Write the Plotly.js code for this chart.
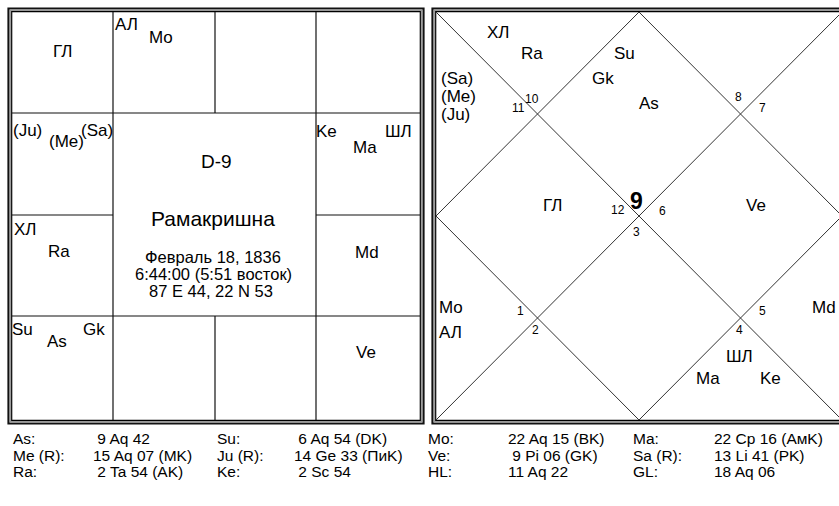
<!DOCTYPE html>
<html><head><meta charset="utf-8">
<script src="https://cdn.plot.ly/plotly-3.0.1.min.js"></script>
<style>html,body{margin:0;padding:0;background:#fff;overflow:hidden}#chart{width:839px;height:506px}</style>
</head><body><div id="chart"></div>
<script>
// ---------------- data ----------------
const signAbbr = ['Ar','Ta','Ge','Cn','Le','Vi','Li','Sc','Sg','Cp','Aq','Pi'];
// D-9 chart contents by sign (Ar .. Pi)
const d9Contents = [
  ['АЛ','Mo'],            // Ar
  [],                     // Ta
  [],                     // Ge
  ['Ke','Ma','ШЛ'],       // Cn
  ['Md'],                 // Le
  ['Ve'],                 // Vi
  [],                     // Li
  [],                     // Sc
  ['Su','As','Gk'],       // Sg
  ['ХЛ','Ra'],            // Cp
  ['(Ju)','(Me)','(Sa)'], // Aq
  ['ГЛ']                  // Pi
];
const ascSign = 9;
const chartName = 'D-9';
const personName = 'Рамакришна';
const birthDate = 'Февраль 18, 1836';
const birthTime = '6:44:00 (5:51 восток)';
const birthPlace = '87 E 44, 22 N 53';
const tableLabels = ['As:','Su:','Mo:','Ma:',
                     'Me (R):','Ju (R):','Ve:','Sa (R):',
                     'Ra:','Ke:','HL:','GL:'];
const tableValues = ['9 Aq 42','6 Aq 54 (DK)','22 Aq 15 (BK)','22 Cp 16 (AмK)',
                     '15 Aq 07 (MK)','14 Ge 33 (ПиK)','9 Pi 06 (GK)','13 Li 41 (PK)',
                     '2 Ta 54 (AK)','2 Sc 54','11 Aq 22','18 Aq 06'];

// ---------------- layout constants ----------------
const FONT = 'Liberation Sans, Arial, sans-serif';
const shapes = [];
const ann = [];
function line(x0,y0,x1,y1,c,w){shapes.push({type:'line',xref:'x',yref:'y',x0,y0,x1,y1,line:{color:c||'#000',width:w||1}});}
function rect(x0,y0,x1,y1,c,w){shapes.push({type:'rect',xref:'x',yref:'y',x0,y0,x1,y1,line:{color:c,width:w},fillcolor:'rgba(0,0,0,0)'});}
function text(t,x,y,size,opt){opt=opt||{};ann.push({text:t,x,y,xref:'x',yref:'y',showarrow:false,
  xanchor:opt.anchor||'center',yanchor:'middle',borderpad:0,font:{family:FONT,size:size,color:'#000',weight:opt.bold?'bold':'normal'}});}
function frame(L,T,R,B){
  rect(L-3.5,T-3.5,R+3.5,B+3.5,'#111',2.2);
  rect(L-1.8,T-1.8,R+1.8,B+1.8,'#999',1.5);
  rect(L-0.3,T-0.3,R+0.3,B+0.3,'#000',1.2);
}

// ---- South Indian chart (left) ----
const sxB = [12,113,215,316,420], syB = [12,113,215,316,420];
frame(12,12,420,420);
line(12,113,420,113,'#111',1.2); line(12,316,420,316,'#111',1.2);
line(113,12,113,420,'#111',1.2); line(316,12,316,420,'#111',1.2);
line(215,12,215,113,'#111',1.2); line(215,316,215,420,'#111',1.2);
line(12,215,113,215,'#111',1.2); line(316,215,420,215,'#111',1.2);
// sign -> [row,col]
const southCell = {Pi:[0,0],Ar:[0,1],Ta:[0,2],Ge:[0,3],Cn:[1,3],Le:[2,3],Vi:[3,3],Li:[3,2],Sc:[3,1],Sg:[3,0],Cp:[2,0],Aq:[1,0]};
// label slots inside each cell (offset from the cell's top-left corner)
const southSlots = {
  Pi:[[50,39]],
  Ar:[[13,12],[48,25]],
  Cn:[[10,18],[49,34],[82,18]],
  Le:[[51,37]],
  Vi:[[50,36]],
  Sg:[[10,13],[45,25],[82,13]],
  Cp:[[13,14],[47,36]],
  Aq:[[15,17],[54,28],[85,17]]
};
signAbbr.forEach((s,i)=>{
  const items = d9Contents[i]; if(!items.length) return;
  const [r,c] = southCell[s];
  items.forEach((lab,k)=>{const p=southSlots[s][k]; text(lab, sxB[c]+p[0], syB[r]+p[1], 17);});
});
text(chartName,216,161,19);
text(personName,213,218,21);
text(birthDate,213,257,16.5);
text(birthTime,213,274,16.5);
text(birthPlace,211,291,16.5);

// ---- North Indian chart (right) ----
const NL=436, NT=12, NS=406;
frame(NL,NT,NL+NS,NT+408);
const dc='#333';
line(NL,NT,NL+NS,NT+408,dc,1); line(NL,NT+408,NL+NS,NT,dc,1);
line(NL+NS/2,NT,NL,NT+204,dc,1); line(NL,NT+204,NL+NS/2,NT+408,dc,1);
line(NL+NS/2,NT+408,NL+NS,NT+204,dc,1); line(NL+NS,NT+204,NL+NS/2,NT,dc,1);
// sign-number spots per house (relative to chart origin)
const numSpot = {1:[200,189],2:[96,87],3:[82,96],4:[182,198],5:[84,299],6:[99,318],7:[200,220],8:[303,318],9:[326,299],10:[226,199],11:[326,96],12:[302,85]};
// item slots per house (in order of the sign's contents)
const houseSlots = {
  1:[[188,41],[213,91],[167,66]],
  2:[[62,20],[96,41]],
  3:[[4,102,'left'],[4,84,'left'],[4,66,'left']],
  4:[[116,193]],
  5:[[2,320,'left'],[2,295,'left']],
  8:[[334,366],[272,366],[303,344]],
  9:[[388,295]],
  10:[[320,193]]
};
for(let h=1;h<=12;h++){
  const sign = ((ascSign-1)+(h-1))%12+1;
  const p = numSpot[h];
  if(h===1) text(String(sign),NL+p[0],NT+p[1],23,{bold:true});
  else text(String(sign),NL+p[0],NT+p[1],12);
  const items = d9Contents[sign-1];
  items.forEach((lab,k)=>{const s=houseSlots[h][k]; text(lab,NL+s[0],NT+s[1],17,{anchor:s[2]||'center'});});
}

// ---- table ----
const colLab=[12,216,427,632], colVal=[92,293,507,713], rowY=[438.5,455,471.5];
tableLabels.forEach((lab,i)=>{
  const r=Math.floor(i/4), c=i%4;
  text(lab,colLab[c],rowY[r],15.5,{anchor:'left'});
  let v=tableValues[i]; if(/^\d\s/.test(v)) v='\u00A0'+v;
  text(v,colVal[c],rowY[r],15.5,{anchor:'left'});
});

Plotly.newPlot('chart',[{x:[0],y:[0],mode:'markers',marker:{opacity:0},hoverinfo:'skip',showlegend:false}],{
  width:839,height:506,margin:{l:0,r:0,t:0,b:0},paper_bgcolor:'#fff',plot_bgcolor:'#fff',
  xaxis:{range:[0,839],visible:false,fixedrange:true},
  yaxis:{range:[506,0],visible:false,fixedrange:true},
  shapes:shapes,annotations:ann,showlegend:false
},{staticPlot:true});
</script></body></html>
